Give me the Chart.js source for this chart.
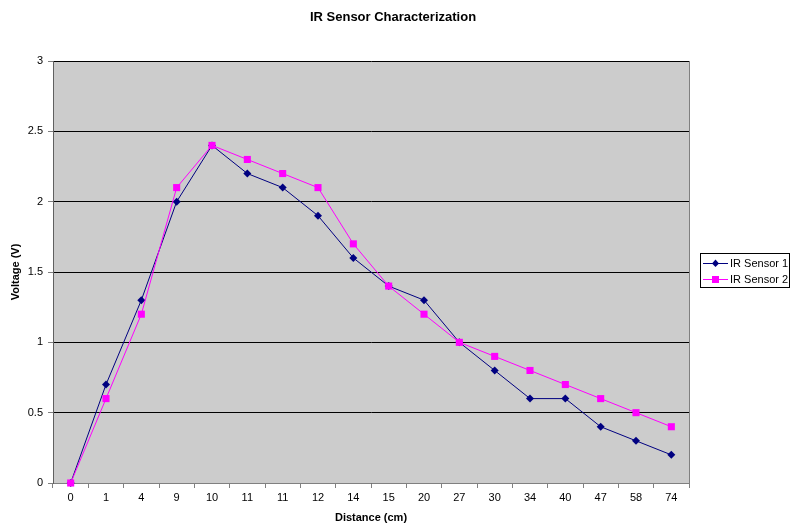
<!DOCTYPE html>
<html>
<head>
<meta charset="utf-8">
<script src="https://cdn.jsdelivr.net/npm/chart.js@4.4.1/dist/chart.umd.min.js"></script>
<style>
  html, body { margin: 0; padding: 0; background: #fff; }
  #wrap { width: 791px; height: 525px; }
</style>
</head>
<body>
<div id="wrap"><canvas id="myChart" width="791" height="525"></canvas></div>
<script>
// distances (cm) as shown on the category axis
const distances = ['0', '1', '4', '9', '10', '11', '11', '12', '14', '15', '20', '27', '30', '34', '40', '47', '58', '74']
const sensor1 = [0, 0.7, 1.3, 2.0, 2.4, 2.2, 2.1, 1.9, 1.6, 1.4, 1.3, 1.0, 0.8, 0.6, 0.6, 0.4, 0.3, 0.2]
const sensor2 = [0, 0.6, 1.2, 2.1, 2.4, 2.3, 2.2, 2.1, 1.7, 1.4, 1.2, 1.0, 0.9, 0.8, 0.7, 0.6, 0.5, 0.4]
const seriesNames = ['IR Sensor 1', 'IR Sensor 2']
const chartTitle = 'IR Sensor Characterization'

const FONT = 'Arial, "Liberation Sans", sans-serif'

// gray plot background + frame, drawn behind the datasets
const plotFrame = {
    id: 'plotFrame',
    beforeDraw(chart) {
        const a = chart.chartArea
        const ctx = chart.ctx
        ctx.save()
        ctx.fillStyle = '#cccccc'
        ctx.fillRect(a.left, a.top, a.right - a.left, a.bottom - a.top)
        ctx.restore()
    },
    afterDatasetsDraw(chart) {
        const a = chart.chartArea
        const ctx = chart.ctx
        ctx.save()
        ctx.strokeStyle = '#808080'
        ctx.lineWidth = 1
        ctx.beginPath()
        ctx.moveTo(a.right + 0.5, a.top)
        ctx.lineTo(a.right + 0.5, a.bottom)
        ctx.stroke()
        ctx.restore()
    }
}

// title + boxed legend on the right, excel style
const titleAndLegend = {
    id: 'titleAndLegend',
    afterDraw(chart) {
        const ctx = chart.ctx
        ctx.save()
        ctx.fillStyle = '#000'
        ctx.font = 'bold 13px ' + FONT
        ctx.textAlign = 'center'
        ctx.textBaseline = 'middle'
        ctx.fillText(chartTitle, 393, 17)

        const x = 700.5, y = 253.5, w = 89, h = 34
        ctx.strokeStyle = '#000'
        ctx.lineWidth = 1
        ctx.fillStyle = '#fff'
        ctx.fillRect(x, y, w, h)
        ctx.strokeRect(x, y, w, h)

        ctx.font = '11px ' + FONT
        ctx.textAlign = 'left'
        chart.data.datasets.forEach((ds, i) => {
            const ly = 263 + i * 16
            ctx.strokeStyle = ds.borderColor
            ctx.beginPath()
            ctx.moveTo(703, ly + 0.5)
            ctx.lineTo(728, ly + 0.5)
            ctx.stroke()
            ctx.fillStyle = ds.backgroundColor
            if (ds.pointStyle === 'rectRot') {
                ctx.beginPath()
                ctx.moveTo(715.5, ly - 3.5)
                ctx.lineTo(719, ly + 0.5)
                ctx.lineTo(715.5, ly + 4)
                ctx.lineTo(712, ly + 0.5)
                ctx.closePath()
                ctx.fill()
            } else {
                ctx.fillRect(712, ly - 3, 7, 7)
            }
            ctx.fillStyle = '#000'
            ctx.fillText(ds.label, 730, ly + 1)
        })
        ctx.restore()
    }
}

let ctx = document.getElementById('myChart')

let data = {
    labels: distances,
    datasets: [{
        label: seriesNames[0],
        data: sensor1,
        borderColor: '#000080',
        backgroundColor: '#000080',
        borderWidth: 1,
        pointStyle: 'rectRot',
        pointRadius: 4,
        pointBorderWidth: 0,
        order: 1,
        clip: false
    }, {
        label: seriesNames[1],
        data: sensor2,
        borderColor: '#ff00ff',
        backgroundColor: '#ff00ff',
        borderWidth: 1,
        pointStyle: 'rect',
        pointRadius: 5,
        pointBorderWidth: 0,
        order: 0,
        clip: false
    }]
}

let myChart = new Chart(ctx, {
    type: 'line',
    data: data,
    plugins: [plotFrame, titleAndLegend],
    options: {
        responsive: false,
        animation: false,
        devicePixelRatio: 1,
        layout: { padding: { left: 0, top: 61, right: 102, bottom: 0 } },
        plugins: {
            legend: { display: false },
            title: { display: false },
            tooltip: { enabled: false }
        },
        scales: {
            x: {
                offset: true,
                afterFit(scale) { scale.height = 42 },
                grid: {
                    offset: true,
                    drawOnChartArea: false,
                    drawTicks: true,
                    tickLength: 5,
                    color: '#808080'
                },
                border: { color: '#808080', width: 1 },
                ticks: {
                    color: '#000',
                    font: { family: FONT, size: 11 },
                    padding: 3,
                    maxRotation: 0,
                    autoSkip: false
                },
                title: {
                    display: true,
                    text: 'Distance (cm)',
                    color: '#000',
                    font: { family: FONT, size: 11, weight: 'bold' },
                    padding: { top: 0, bottom: 0 }
                }
            },
            y: {
                min: 0,
                max: 3,
                afterFit(scale) { scale.width = 53 },
                grid: {
                    color: '#000',
                    tickColor: '#808080',
                    tickLength: 5,
                    lineWidth: 1
                },
                border: { color: '#606060', width: 1 },
                ticks: {
                    stepSize: 0.5,
                    color: '#000',
                    font: { family: FONT, size: 11 },
                    padding: 5,
                    callback: v => String(v)
                },
                title: {
                    display: true,
                    text: 'Voltage (V)',
                    color: '#000',
                    font: { family: FONT, size: 11, weight: 'bold' },
                    padding: { top: 9, bottom: 0 }
                }
            }
        }
    }
})
</script>
</body>
</html>
